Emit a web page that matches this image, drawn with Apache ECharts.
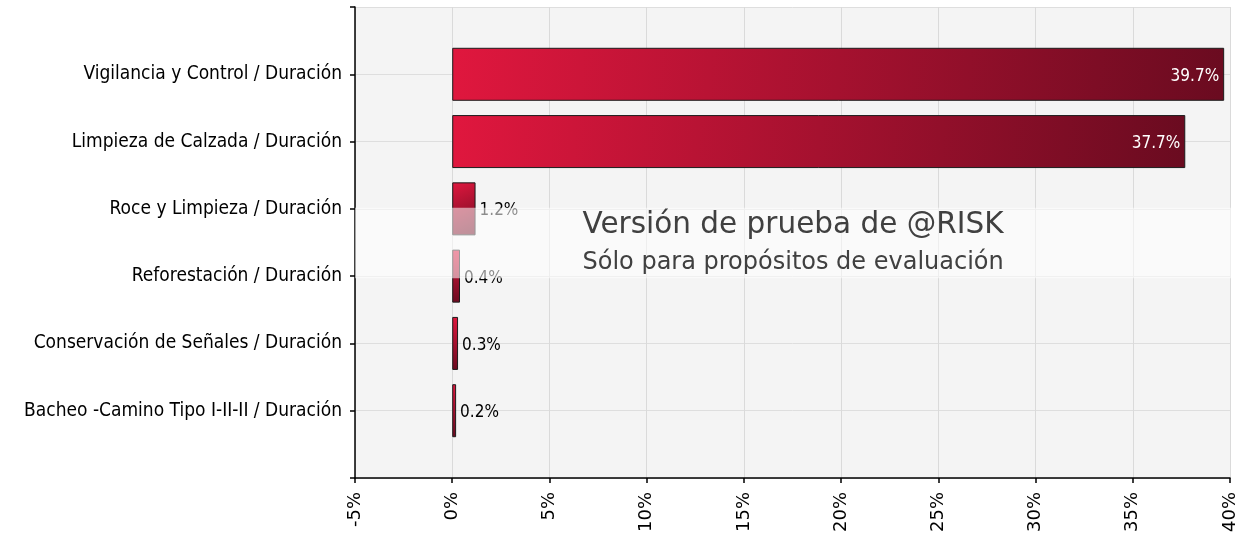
<!DOCTYPE html>
<html>
<head>
<meta charset="utf-8">
<script src="https://cdn.jsdelivr.net/npm/echarts@6/dist/echarts.min.js"></script>
<style>
  html, body { margin: 0; padding: 0; background: #ffffff; }
  #chart { width: 1239px; height: 533px; }
</style>
</head>
<body>
<div id="chart"></div>
<script>
// Tornado-style contribution chart: share of variance per input (Duración)
const categories = [
  'Vigilancia y Control / Duración',
  'Limpieza de Calzada / Duración',
  'Roce y Limpieza / Duración',
  'Reforestación / Duración',
  'Conservación de Señales / Duración',
  'Bacheo -Camino Tipo I-II-II / Duración'
];
const contribution = [39.7, 37.7, 1.2, 0.4, 0.3, 0.2];
const xTicks = { min: -5, max: 40, step: 5 };
const watermarkLines = ['Versión de prueba de @RISK', 'Sólo para propósitos de evaluación'];

// Pad the category axis with an empty slot at each end so the bars sit on whole ticks
const yCats = [''].concat(categories, ['']);
const barData = ['-'].concat(contribution, ['-']);

const LABEL_FONT = '"DejaVu Sans Condensed", "DejaVu Sans", sans-serif';
const WIDE_FONT = '"DejaVu Sans", Verdana, sans-serif';

const chart = echarts.init(document.getElementById('chart'), null, { renderer: 'canvas' });

const barFill = new echarts.graphic.LinearGradient(0, 0, 1, 1, [
  { offset: 0, color: '#e0173e' },
  { offset: 1, color: '#6a0b20' }
]);

const option = {
  animation: false,
  backgroundColor: '#ffffff',
  grid: {
    left: 355, right: 9, top: 7, bottom: 55,
    containLabel: false, outerBoundsMode: 'none',
    show: true, backgroundColor: '#f4f4f4', borderWidth: 0
  },
  xAxis: {
    type: 'value',
    min: xTicks.min, max: xTicks.max, interval: xTicks.step,
    axisLine: { show: true, onZero: false, lineStyle: { color: '#000', width: 1.5 } },
    axisTick: { show: true, length: 5, lineStyle: { color: '#000', width: 1.5 } },
    axisLabel: {
      rotate: 90, margin: 14, color: '#000', fontFamily: WIDE_FONT, fontSize: 18,
      formatter: v => v + '%'
    },
    splitLine: { show: true, lineStyle: { color: '#dadada', width: 1 } }
  },
  yAxis: {
    type: 'category',
    data: yCats,
    inverse: true,
    boundaryGap: false,
    axisLine: { show: true, onZero: false, lineStyle: { color: '#000', width: 1.5 } },
    axisTick: { show: true, length: 5, lineStyle: { color: '#000', width: 1.5 } },
    axisLabel: { margin: 13, color: '#000', fontFamily: LABEL_FONT, fontSize: 19 },
    splitLine: { show: true, lineStyle: { color: '#dedede', width: 1 } }
  },
  series: [{
    type: 'bar',
    data: barData.map(v => {
      if (v === '-') return '-';
      const big = v > 10;
      return {
        value: v,
        label: big
          ? { position: 'insideRight', color: '#fff', distance: 5 }
          : { position: 'right', color: '#000', distance: 4 }
      };
    }),
    barWidth: 53,
    itemStyle: { color: barFill, borderColor: '#1c1c1c', borderWidth: 1 },
    label: {
      show: true, fontFamily: LABEL_FONT, fontSize: 17, offset: [0, 2],
      formatter: p => p.value.toFixed(1) + '%'
    },
    z: 3
  }]
};

chart.setOption(option);

// Evaluation-version banner laid across the plot area, between the 3rd and 4th rows
const gridModel = chart.getModel().getComponent('grid');
const rect = gridModel.coordinateSystem.getRect();
const rowA = chart.convertToPixel({ yAxisIndex: 0 }, yCats[3]);
const rowB = chart.convertToPixel({ yAxisIndex: 0 }, yCats[4]);
const bandTop = rowA - 1;
const bandBottom = rowB + 2;
const textX = chart.convertToPixel({ xAxisIndex: 0 }, 6.7);

chart.setOption({
  graphic: [
    {
      type: 'rect', z: 100, silent: true,
      shape: { x: rect.x, y: bandTop, width: rect.width + 2, height: bandBottom - bandTop },
      style: { fill: 'rgba(255,255,255,0.55)' }
    },
    {
      type: 'text', z: 101, silent: true, x: textX, y: 225,
      style: { text: watermarkLines[0], fill: '#404040', font: '29.5px ' + WIDE_FONT, verticalAlign: 'middle', align: 'left' }
    },
    {
      type: 'text', z: 101, silent: true, x: textX, y: 263,
      style: { text: watermarkLines[1], fill: '#404040', font: '24px ' + WIDE_FONT, verticalAlign: 'middle', align: 'left' }
    }
  ]
});
</script>
</body>
</html>
